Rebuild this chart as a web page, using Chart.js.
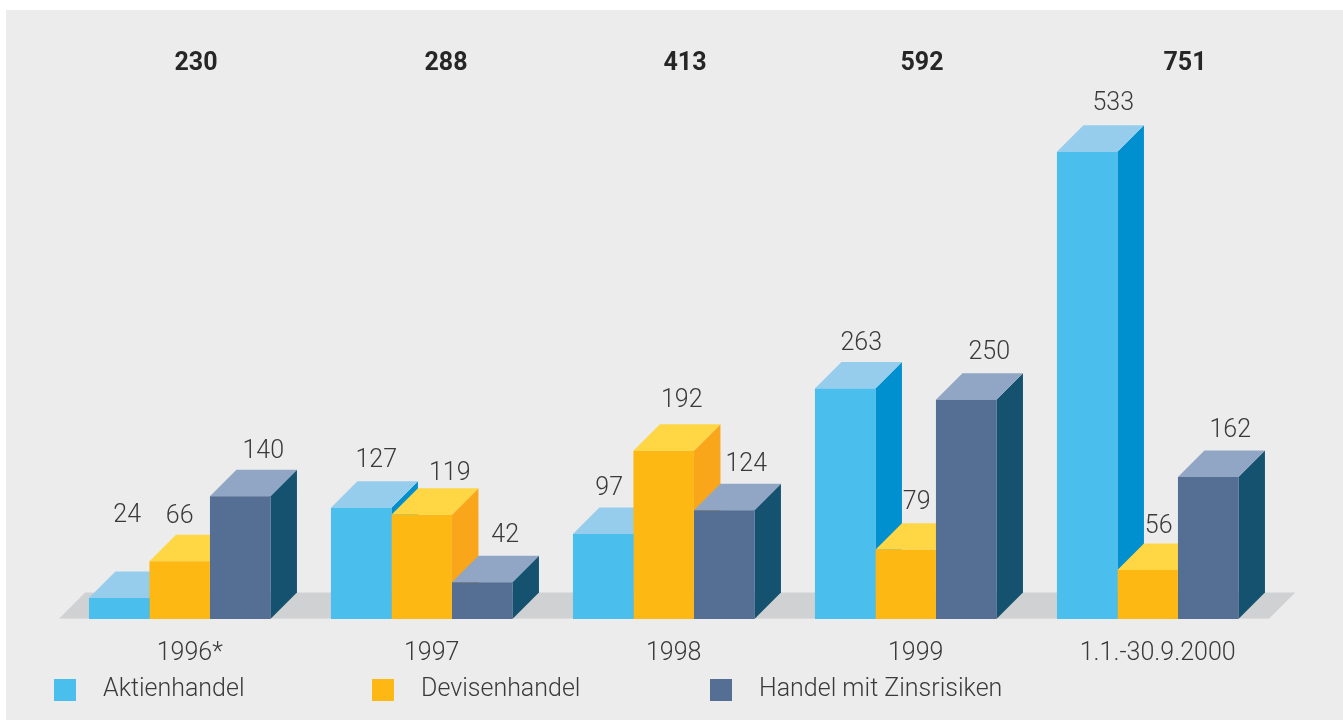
<!DOCTYPE html>
<html lang="de">
<head>
<meta charset="utf-8">
<style>html,body{margin:0;padding:0;background:#fff}canvas{display:block}#w{width:1343px;height:720px;position:relative}</style>
<script src="https://cdn.jsdelivr.net/npm/chart.js@4/dist/chart.umd.min.js"></script>
</head>
<body>
<div id="w"><canvas id="c" width="1343" height="720"></canvas></div>
<script>
const categories = ['1996*', '1997', '1998', '1999', '1.1.-30.9.2000'];
const totals = [230, 288, 413, 592, 751];
const aktienhandel = [24, 127, 97, 263, 533];
const devisenhandel = [66, 119, 192, 79, 56];
const zinsrisiken = [140, 42, 124, 250, 162];
const seriesNames = ['Aktienhandel', 'Devisenhandel', 'Handel mit Zinsrisiken'];

const frontColors = ['#4abeed', '#fdb813', '#546e94'];
const topColors = ['#97cdec', '#ffd745', '#91a6c4'];
const sideColors = ['#008fcf', '#f9a61a', '#14526f'];
const DEPTH = 26.5;
const labelDx = [[8,15,6,16,26],[0,28,18,11,11],[23,23,22,23,22]];
const labelDy = [[82,47,45,45,48],[44,41,50,47,43],[45,46,46,47,46]];
const totalX = [196,446,685,922,1185];
const legendX = [[54,103],[372,421],[710,759]];
const TEXT = '#3a3a3c';
const lightFont = '300 25px Roboto';

const depthPlugin = {
  id: 'depth',
  beforeDraw(chart) {
    const c = chart.ctx;
    c.fillStyle = '#ececec';
    c.fillRect(6, 10, chart.width - 6, chart.height - 10);
  },
  beforeDatasetsDraw(chart) {
    const c = chart.ctx, a = chart.chartArea, b = a.bottom;
    c.fillStyle = '#d0d1d3';
    c.beginPath();
    c.moveTo(a.left, b); c.lineTo(a.left + DEPTH, b - DEPTH);
    c.lineTo(a.right + DEPTH, b - DEPTH); c.lineTo(a.right, b);
    c.closePath(); c.fill();
    c.fillStyle = '#dcdcdd';
    c.fillRect(a.left, b - 1, a.right - a.left, 1);
    categories.forEach((_, i) => {
      chart.data.datasets.forEach((ds, d) => {
        const el = chart.getDatasetMeta(d).data[i];
        const l = el.x - el.width / 2, r = el.x + el.width / 2, t = el.y, base = el.base;
        c.fillStyle = sideColors[d];
        c.beginPath();
        c.moveTo(r, t); c.lineTo(r + DEPTH, t - DEPTH);
        c.lineTo(r + DEPTH, base - DEPTH); c.lineTo(r, base);
        c.closePath(); c.fill();
        c.fillStyle = topColors[d];
        c.beginPath();
        c.moveTo(l, t); c.lineTo(l + DEPTH, t - DEPTH);
        c.lineTo(r + DEPTH, t - DEPTH); c.lineTo(r, t);
        c.closePath(); c.fill();
      });
    });
  },
  afterDatasetsDraw(chart) {
    const c = chart.ctx;
    c.textAlign = 'center';
    c.textBaseline = 'middle';
    c.fillStyle = TEXT;
    c.font = lightFont;
    chart.data.datasets.forEach((ds, d) => {
      chart.getDatasetMeta(d).data.forEach((el, i) => {
        c.fillText(String(ds.data[i]), el.x + labelDx[d][i], el.y - labelDy[d][i]);
      });
    });
    c.font = '700 25px Roboto';
    c.fillStyle = '#262626';
    totals.forEach((v, i) => c.fillText(String(v), totalX[i], 64));
    c.textAlign = 'left';
    c.font = lightFont;
    seriesNames.forEach((n, d) => {
      c.fillStyle = frontColors[d];
      c.fillRect(legendX[d][0], 679, 22, 22);
      c.fillStyle = TEXT;
      c.fillText(n, legendX[d][1], 690);
    });
  }
};

new Chart(document.getElementById('c'), {
  type: 'bar',
  data: {
    labels: categories,
    datasets: [aktienhandel, devisenhandel, zinsrisiken].map((data, d) => ({
      label: seriesNames[d], data,
      backgroundColor: frontColors[d],
      borderWidth: 0,
      categoryPercentage: 0.75,
      barPercentage: 1
    }))
  },
  options: {
    responsive: false,
    animation: false,
    devicePixelRatio: 1,
    layout: { padding: { left: 58.7, right: 74.3, top: 0, bottom: 0 } },
    plugins: { legend: { display: false }, tooltip: { enabled: false } },
    scales: {
      y: { display: false, min: 0, max: 706 },
      x: {
        afterFit(s) { s.height = 101; },
        grid: { display: false, drawBorder: false },
        border: { display: false },
        ticks: { color: TEXT, font: { family: 'Roboto', size: 25, weight: '300' }, padding: 12, labelOffset: 10, maxRotation: 0, autoSkip: false }
      }
    }
  },
  plugins: [depthPlugin]
});
</script>
</body>
</html>
